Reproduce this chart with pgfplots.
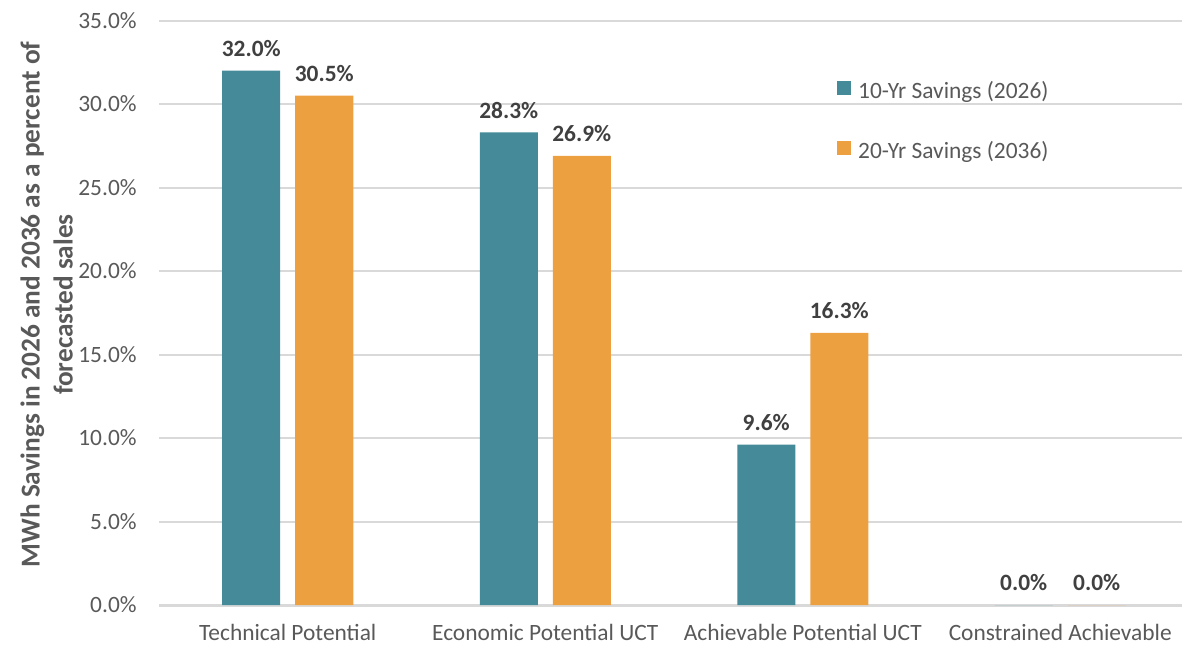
\documentclass[border=0pt]{standalone}
\usepackage{fontspec}
\setmainfont{Carlito}
\usepackage{pgfplots}
\pgfplotsset{compat=1.18}
\usepackage{pgfplotstable}

\definecolor{tealbar}{HTML}{448A98}
\definecolor{orangebar}{HTML}{EDA040}
\definecolor{gridgray}{HTML}{D9D9D9}
\definecolor{ticktext}{HTML}{595959}
\definecolor{labeltext}{HTML}{404040}

% Savings as a percent of forecasted sales
\pgfplotstableread{
x  ten   twenty
0  32.0  30.5
1  28.3  26.9
2  9.6   16.3
3  0.0   0.0
}\savings

\begin{document}
\begin{tikzpicture}
\begin{axis}[
  at={(0,0)}, anchor=south west,
  scale only axis,
  width=515pt, height=292.25pt,
  ybar=7.5pt, bar width=29pt,
  xmin=-0.5, xmax=3.5,
  ymin=0, ymax=35,
  xtick=data,
  xticklabels={Technical Potential, Economic Potential UCT, Achievable Potential UCT, Constrained Achievable},
  ytick={0,5,...,35},
  /pgf/number format/assume math mode=true,
  yticklabel={\pgfmathprintnumber[fixed,fixed zerofill,precision=1]{\tick}\%},
  major tick length=0pt,
  tick style={draw=none},
  axis x line*=bottom,
  axis y line*=left,
  x axis line style={draw=gridgray, line width=1.5pt, -},
  y axis line style={draw=none},
  ymajorgrids,
  grid style={draw=gridgray, line width=1pt},
  tick label style={font=\fontsize{11.7}{14}\selectfont, text=ticktext},
  yticklabel style={inner sep=0pt, xshift=-11pt},
  xticklabel style={inner sep=0pt, yshift=-9.5pt},
  ylabel={MWh Savings in 2026 and 2036 as a percent of\\forecasted sales},
  ylabel style={at={(axis description cs:-0.109,0.514)}, anchor=center,
    align=center, text=ticktext,
    font=\bfseries\fontsize{13.65}{16.5}\selectfont},
  nodes near coords={\pgfmathprintnumber[fixed,fixed zerofill,precision=1]{\pgfplotspointmeta}\%},
  every node near coord/.append style={font=\bfseries\fontsize{11.7}{14}\selectfont,
    text=labeltext, yshift=3.5pt},
  legend cell align=left,
  legend style={draw=none, fill=none,
    at={(rel axis cs:0.658,0.8965)}, anchor=north west,
    inner sep=0pt, row sep=19.5pt, column sep=3.5pt,
    nodes={inner sep=0pt},
    font=\fontsize{11.7}{14}\selectfont, text=ticktext},
  legend image code/.code={\fill[#1] (0pt,-1.75pt) rectangle (7pt,5.25pt);},
]
\addplot[fill=tealbar, draw=none] table[x=x, y=ten] {\savings};
\addlegendentry{10-Yr Savings (2026)}
\addplot[fill=orangebar, draw=none] table[x=x, y=twenty] {\savings};
\addlegendentry{20-Yr Savings (2036)}
\end{axis}
\pgfresetboundingbox
\path (-79.5pt,-20pt) rectangle (511.5pt,302.5pt);
\end{tikzpicture}
\end{document}
